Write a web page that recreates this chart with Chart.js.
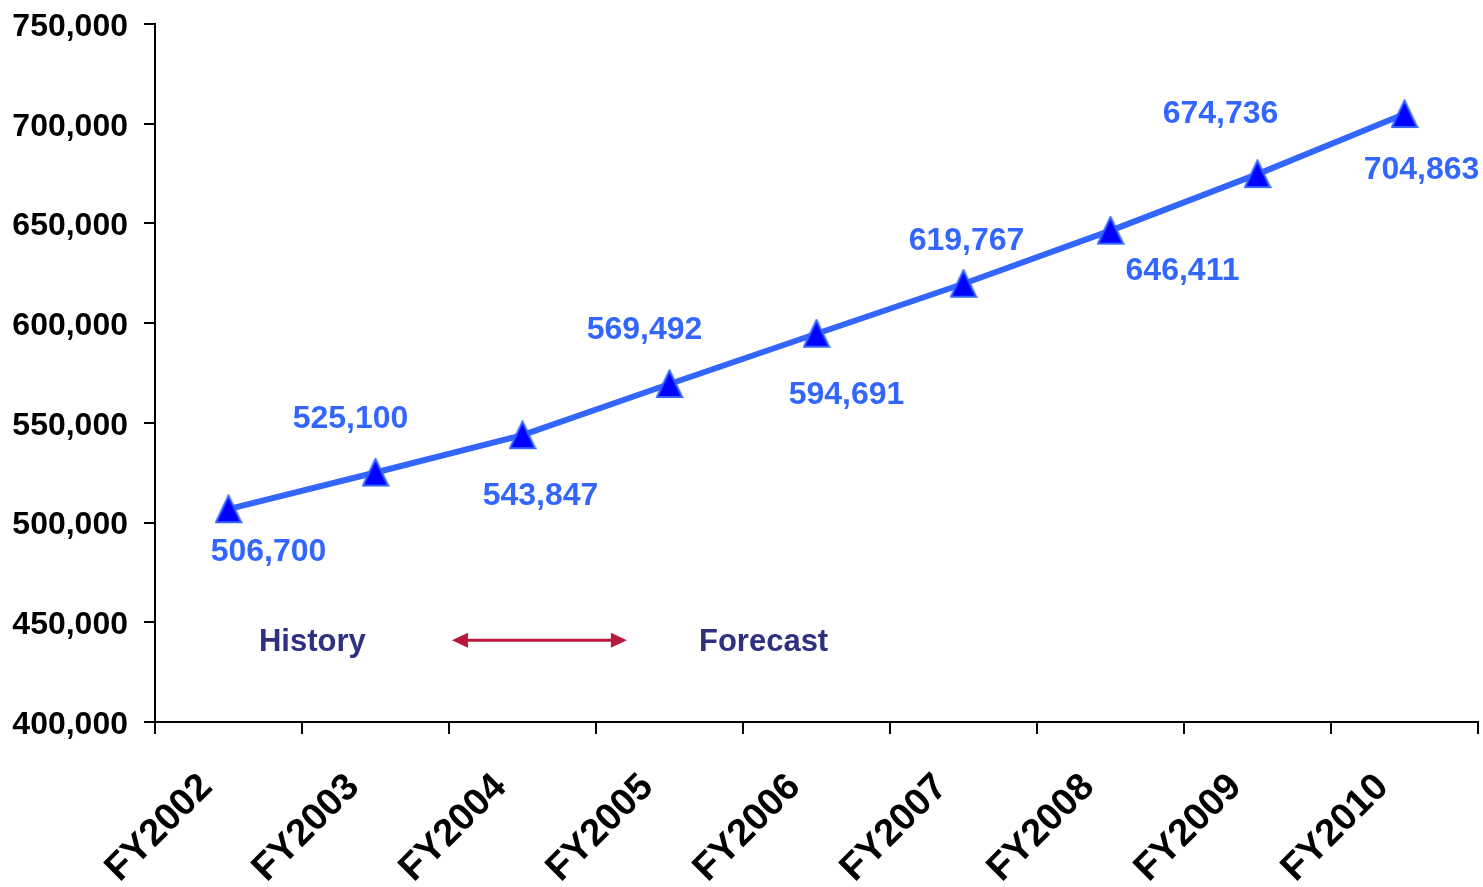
<!DOCTYPE html>
<html>
<head>
<meta charset="utf-8">
<script src="https://cdn.jsdelivr.net/npm/chart.js@4/dist/chart.umd.min.js"></script>
<style>
  html, body { margin: 0; padding: 0; background: #fff; }
  #wrap { width: 1483px; height: 887px; }
</style>
</head>
<body>
<div id="wrap"><canvas id="chart" width="1483" height="887"></canvas></div>
<script>
  // ---- data ----
  const years = ['FY2002', 'FY2003', 'FY2004', 'FY2005', 'FY2006', 'FY2007', 'FY2008', 'FY2009', 'FY2010'];
  const enrollment = [506700, 525100, 543847, 569492, 594691, 619767, 646411, 674736, 704863];
  const yTicks = [400000, 450000, 500000, 550000, 600000, 650000, 700000, 750000];

  // where each value label sits relative to its marker (px)
  const labelOffsets = [[40, 43], [-25, -53], [18, 61], [-25, -54], [30, 61], [3, -43], [72, 41], [-37, -60], [17, 56]];

  const FONT = "'Liberation Sans', Arial, sans-serif";
  const LINE_BLUE = '#3366FF';

  const fmt = (v) => v.toLocaleString('en-US');

  // marker: a slightly tall triangle, like the original
  function makeTriangle() {
    const c = document.createElement('canvas');
    c.width = 28;
    c.height = 30;
    const g = c.getContext('2d');
    g.beginPath();
    g.moveTo(14, 1.5);
    g.lineTo(26.5, 28);
    g.lineTo(1.5, 28);
    g.closePath();
    g.fillStyle = '#0000FF';
    g.fill();
    g.lineWidth = 2;
    g.strokeStyle = LINE_BLUE;
    g.stroke();
    return c;
  }
  const triangle = makeTriangle();

  /* ---------- value labels + history/forecast note ---------- */
  const overlay = {
    id: 'overlay',
    afterDatasetsDraw(chart) {
      const ctx = chart.ctx;
      const x = chart.scales.x;
      const y = chart.scales.y;
      const meta = chart.getDatasetMeta(0);

      ctx.save();
      ctx.font = 'bold 32px ' + FONT;
      ctx.fillStyle = LINE_BLUE;
      ctx.textAlign = 'center';
      ctx.textBaseline = 'middle';
      meta.data.forEach((pt, i) => {
        const o = labelOffsets[i];
        ctx.fillText(fmt(enrollment[i]), pt.x + o[0], pt.y + o[1]);
      });

      // History / Forecast
      const noteY = y.getPixelForValue(441000);
      ctx.fillStyle = '#2E3180';
      ctx.font = 'bold 31px ' + FONT;
      ctx.fillText('History', x.getPixelForValue(0.57), noteY + 2);
      ctx.fillText('Forecast', x.getPixelForValue(3.64), noteY + 2);

      // double arrow
      const ax1 = x.getPixelForValue(1.52);
      const ax2 = x.getPixelForValue(2.71);
      const ay = noteY;
      ctx.strokeStyle = '#B8183C';
      ctx.fillStyle = '#B8183C';
      ctx.lineWidth = 3;
      ctx.beginPath();
      ctx.moveTo(ax1 + 10, ay);
      ctx.lineTo(ax2 - 10, ay);
      ctx.stroke();
      ctx.beginPath();
      ctx.moveTo(ax1, ay);
      ctx.lineTo(ax1 + 16, ay - 7.5);
      ctx.lineTo(ax1 + 16, ay + 7.5);
      ctx.closePath();
      ctx.fill();
      ctx.beginPath();
      ctx.moveTo(ax2, ay);
      ctx.lineTo(ax2 - 16, ay - 7.5);
      ctx.lineTo(ax2 - 16, ay + 7.5);
      ctx.closePath();
      ctx.fill();
      ctx.restore();
    },
  };

  new Chart(document.getElementById('chart'), {
    type: 'line',
    data: {
      labels: years,
      datasets: [
        {
          data: enrollment,
          borderColor: LINE_BLUE,
          borderWidth: 6,
          tension: 0,
          pointStyle: triangle,
          pointRadius: 14,
          pointHoverRadius: 14,
          clip: false,
        },
      ],
    },
    options: {
      responsive: false,
      animation: false,
      layout: { autoPadding: false, padding: { top: 24, right: 5, left: 0, bottom: 0 } },
      plugins: { legend: { display: false }, tooltip: { enabled: false } },
      scales: {
        x: {
          type: 'category',
          offset: true,
          grid: {
            offset: true,
            drawOnChartArea: false,
            drawTicks: true,
            tickLength: 12,
            color: '#000',
            lineWidth: 2,
          },
          border: { display: true, color: '#000', width: 2 },
          ticks: {
            color: '#000',
            font: { family: FONT, size: 38, weight: 'bold' },
            minRotation: 45,
            maxRotation: 45,
            padding: 31,
            labelOffset: -22,
          },
          afterFit: (s) => {
            s.height = 165;
            s.paddingLeft = 0;
            s.paddingRight = 0;
          },
        },
        y: {
          min: 400000,
          max: 750000,
          afterBuildTicks: (s) => { s.ticks = yTicks.map((v) => ({ value: v })); },
          grid: {
            drawOnChartArea: false,
            drawTicks: true,
            tickLength: 11,
            color: '#000',
            lineWidth: 2,
          },
          border: { display: true, color: '#000', width: 2 },
          ticks: {
            color: '#000',
            font: { family: FONT, size: 32, weight: 'bold' },
            padding: 16,
            labelOffset: 3,
            callback: (v) => fmt(v),
          },
          afterFit: (s) => {
            s.width = 155;
            s.paddingTop = 0;
            s.paddingBottom = 0;
          },
        },
      },
    },
    plugins: [overlay],
  });
</script>
</body>
</html>
